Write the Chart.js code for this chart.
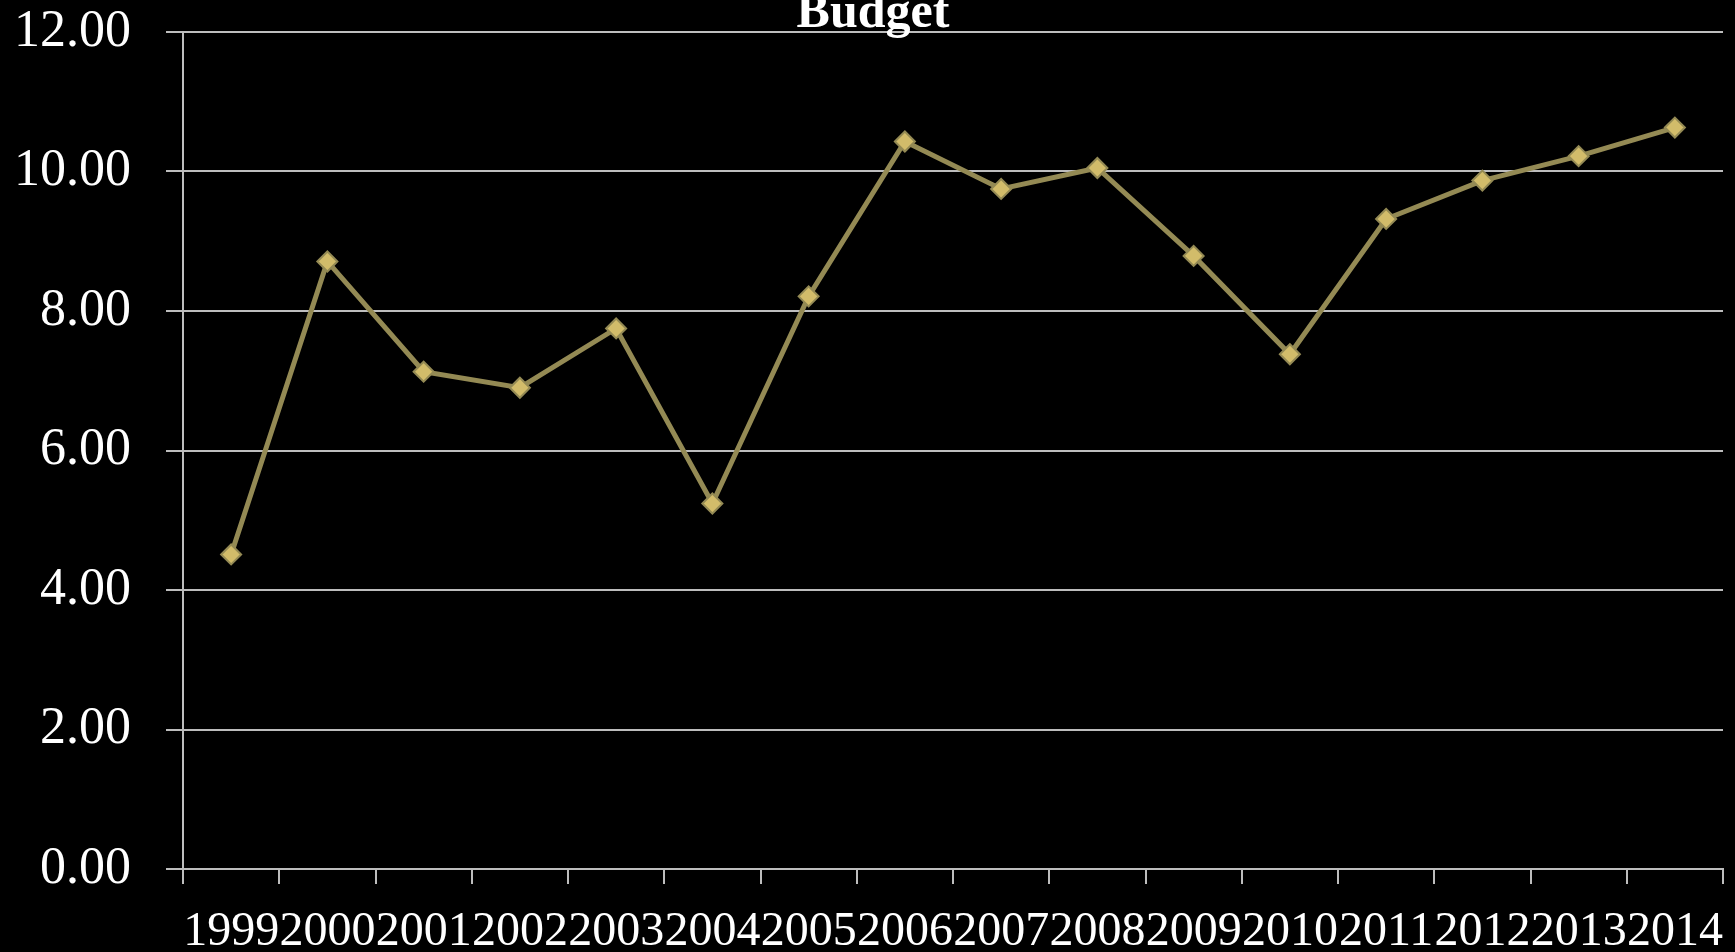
<!DOCTYPE html>
<html>
<head>
<meta charset="utf-8">
<title>Budget</title>
<script src="https://cdn.jsdelivr.net/npm/chart.js@4"></script>
<style>
  html, body { margin: 0; padding: 0; background: #000; }
  #wrap { width: 1735px; height: 952px; }
</style>
</head>
<body>
<div id="wrap"><canvas id="budgetChart"></canvas></div>
<script>
// ------------------------------------------------------------
// Data
// ------------------------------------------------------------
const years  = ['1999', '2000', '2001', '2002', '2003', '2004', '2005', '2006',
                '2007', '2008', '2009', '2010', '2011', '2012', '2013', '2014'];
const budget = [4.51, 8.71, 7.13, 6.90, 7.75, 5.24, 8.21, 10.43,
                9.75, 10.05, 8.79, 7.38, 9.32, 9.87, 10.22, 10.63];
const yTicks = [0, 2, 4, 6, 8, 10, 12];

const titleText = 'Budget';
const GRID = '#bdbdbd';
const SERIF = '"Liberation Serif", "DejaVu Serif", serif';

// Title sits over the top gridline, like the original slide chart
const titlePlugin = {
  id: 'slideTitle',
  afterDraw(chart) {
    const ctx = chart.ctx;
    ctx.save();
    ctx.font = 'bold 50px ' + SERIF;
    ctx.fillStyle = '#ffffff';
    ctx.textAlign = 'center';
    ctx.textBaseline = 'alphabetic';
    ctx.fillText(titleText, 873, 27);
    ctx.restore();
  }
};

new Chart(document.getElementById('budgetChart'), {
  type: 'line',
  data: {
    labels: years,
    datasets: [{
      label: titleText,
      data: budget,
      borderColor: '#948a54',
      borderWidth: 5,
      pointStyle: 'rectRot',
      pointRadius: 10,
      pointBackgroundColor: '#d2bc6a',
      pointBorderColor: '#948a54',
      pointBorderWidth: 2,
      tension: 0,
      fill: false
    }]
  },
  options: {
    responsive: true,
    maintainAspectRatio: false,
    animation: false,
    layout: { padding: { top: 32, right: 6, left: 0, bottom: 0 } },
    plugins: {
      legend: { display: false },
      title: { display: false },
      tooltip: { enabled: false }
    },
    scales: {
      x: {
        type: 'category',
        offset: true,
        afterFit: s => {
          s.height = 83;
          s.paddingLeft = 0;
          s.paddingRight = 0;
        },
        grid: {
          offset: true,
          drawOnChartArea: false,
          drawTicks: true,
          tickLength: 15,
          color: GRID,
          lineWidth: 2
        },
        border: { color: GRID, width: 2 },
        ticks: {
          color: '#ffffff',
          font: { family: SERIF, size: 48 },
          padding: 20,
          autoSkip: false,
          maxRotation: 0,
          minRotation: 0
        }
      },
      y: {
        min: 0,
        max: 12,
        afterFit: s => {
          s.width = 183;
          s.paddingTop = 0;
          s.paddingBottom = 0;
        },
        afterBuildTicks: s => { s.ticks = yTicks.map(v => ({ value: v })); },
        grid: {
          color: GRID,
          lineWidth: 2,
          tickLength: 17
        },
        border: { color: GRID, width: 2 },
        ticks: {
          color: '#ffffff',
          font: { family: SERIF, size: 52 },
          padding: 35,
          callback: v => Number(v).toFixed(2)
        }
      }
    }
  },
  plugins: [titlePlugin]
});
</script>
</body>
</html>
